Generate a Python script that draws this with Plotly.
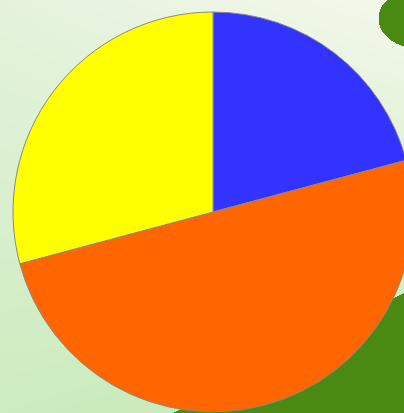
import base64, struct, zlib
import numpy as np
import plotly.graph_objects as go

labels = ["A", "B", "C"]
values = [25, 60, 35]
colors = ["#3333FF", "#FF6600", "#FFFF00"]

# ---- decorative background (soft green gradient with leaves) ----
IW, IH = 404, 413
yy, xx = np.mgrid[0:IH, 0:IW].astype(float)
top = np.array([244, 248, 236], float)
left = np.array([214, 238, 204], float)
bottom = np.array([196, 234, 180], float)
t = np.clip(yy / IH, 0, 1)[..., None]
s = np.clip(1 - xx / IW, 0, 1)[..., None]
img = top * (1 - t) + bottom * t
img = img * (1 - 0.5 * s) + left * (0.5 * s)
leaf = np.array([74, 138, 18], float)
mask1 = ((xx - 418) ** 2 / 40 ** 2 + (yy - 18) ** 2 / 30 ** 2) < 1
mask2 = yy > 292 + (404 - xx) * 0.52
img[mask1] = leaf
img[mask2] = leaf
img = img.astype(np.uint8)

def to_png(arr):
    h, w, _ = arr.shape
    raw = b"".join(b"\x00" + arr[i].tobytes() for i in range(h))
    def chunk(tag, data):
        c = struct.pack(">I", len(data)) + tag + data
        return c + struct.pack(">I", zlib.crc32(tag + data) & 0xffffffff)
    return (b"\x89PNG\r\n\x1a\n" + chunk(b"IHDR", struct.pack(">IIBBBBB", w, h, 8, 2, 0, 0, 0))
            + chunk(b"IDAT", zlib.compress(raw, 9)) + chunk(b"IEND", b""))

uri = "data:image/png;base64," + base64.b64encode(to_png(img)).decode()

L, R, T, B = 13, 13, 12, 13
PW = PH = 400
W, H = L + PW + R, T + PH + B

fig = go.Figure(go.Pie(
    labels=labels, values=values, sort=False, direction="clockwise", rotation=0,
    marker=dict(colors=colors, line=dict(color="#888888", width=1)),
    textinfo="none", hoverinfo="label+value+percent", showlegend=False,
))
fig.update_layout(
    width=W, height=H, autosize=False,
    margin=dict(l=L, r=R, t=T, b=B, pad=0),
    paper_bgcolor="#EAF4E2", plot_bgcolor="rgba(0,0,0,0)",
    images=[dict(source=uri, xref="paper", yref="paper",
                 x=-L / PW, y=1 + T / PH, sizex=IW / PW, sizey=IH / PH,
                 xanchor="left", yanchor="top", sizing="stretch", layer="below")],
)
fig.write_html("out.html", config={"displayModeBar": False},
               post_script="document.body.style.margin='0';document.body.style.overflow='hidden';document.documentElement.style.overflow='hidden';")
